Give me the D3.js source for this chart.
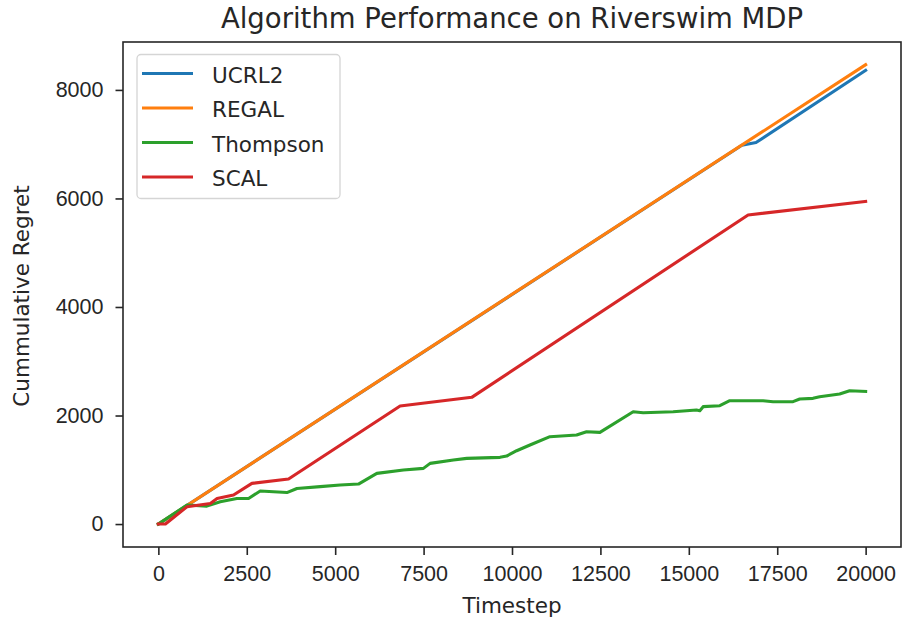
<!DOCTYPE html>
<head>
<script src="https://d3js.org/d3.v7.min.js"></script>
<style type="text/css">
  body { margin: 0; background: #fff; }
  svg { display: block; font-family: "DejaVu Sans", sans-serif; }
  .tick text { fill: #262626; }
</style>
</head>
<body>
<div id="chart"></div>
<script>

// values (timestep, cumulative regret)
var ucrl2 = [[0, 0], [16500, 6980], [16900, 7030], [20000, 8360]];
var regal = [[0, 0], [20000, 8465]];
var thompson = [
  [0, 0], [810, 350], [1370, 330], [1750, 410], [2220, 470], [2550, 470], [2880, 610],
  [3635, 580], [3918, 656], [4576, 690], [5141, 720], [5658, 737], [6178, 934],
  [6930, 995], [7495, 1026], [7684, 1118], [8343, 1180], [8720, 1210], [9661, 1229],
  [9850, 1253], [10132, 1351], [10508, 1456], [11073, 1610], [11827, 1640],
  [12109, 1702], [12486, 1690], [13427, 2070], [13710, 2052], [14557, 2070],
  [15217, 2101], [15311, 2089], [15405, 2163], [15876, 2181], [16158, 2273],
  [17100, 2273], [17382, 2255], [17947, 2255], [18136, 2304], [18512, 2316],
  [18700, 2347], [19265, 2396], [19548, 2457], [20000, 2445]
];
var scal = [
  [0, 0], [200, 0], [810, 320], [1470, 380], [1660, 470], [2125, 535], [2645, 750],
  [3681, 830], [6836, 2175], [8861, 2335], [16676, 5696], [20000, 5945]
];

var seriesNames = ["UCRL2", "REGAL", "Thompson", "SCAL"];
var seriesData = [ucrl2, regal, thompson, scal];
var colors = ["#1f77b4", "#ff7f0e", "#2ca02c", "#d62728"];

var xTicks = [0, 2500, 5000, 7500, 10000, 12500, 15000, 17500, 20000];
var yTicks = [0, 2000, 4000, 6000, 8000];

var width = 904, height = 625;
var margin = { left: 123, right: 3, top: 42, bottom: 78 };
var fs = "21.5px";
var ink = "#262626";

var svg = d3.select("#chart").append("svg")
  .attr("width", width)
  .attr("height", height);

var x = d3.scaleLinear()
  .domain([-1000, 21000])
  .range([margin.left, width - margin.right]);

var y = d3.scaleLinear()
  .domain([-423, 8883])
  .range([height - margin.bottom, margin.top]);

// axes
var xAxis = svg.append("g")
  .attr("transform", "translate(0," + (height - margin.bottom) + ")")
  .call(d3.axisBottom(x).tickValues(xTicks).tickFormat(d3.format("d")).tickSize(8).tickPadding(11).tickSizeOuter(0));
var yAxis = svg.append("g")
  .attr("transform", "translate(" + margin.left + ",0)")
  .call(d3.axisLeft(y).tickValues(yTicks).tickFormat(d3.format("d")).tickSize(7.5).tickPadding(12).tickSizeOuter(0));

[xAxis, yAxis].forEach(function(a) {
  a.select(".domain").remove();
  a.selectAll(".tick line").attr("stroke", ink).attr("stroke-width", 1.6);
  a.selectAll(".tick text").style("font-size", fs);
});

// lines
var line = d3.line()
  .x(d => x(d[0]))
  .y(d => y(d[1]));

svg.append("g").selectAll("path")
  .data(seriesData)
  .enter()
  .append("path")
  .attr("d", line)
  .attr("fill", "none")
  .attr("stroke", (d, i) => colors[i])
  .attr("stroke-width", 3.1)
  .attr("stroke-linejoin", "round")
  .attr("stroke-linecap", "square");

// frame
svg.append("rect")
  .attr("x", margin.left)
  .attr("y", margin.top)
  .attr("width", width - margin.left - margin.right)
  .attr("height", height - margin.top - margin.bottom)
  .attr("fill", "none")
  .attr("stroke", ink)
  .attr("stroke-width", 1.6);

// labels
svg.append("text")
  .attr("x", (margin.left + width - margin.right) / 2)
  .attr("y", 28)
  .attr("text-anchor", "middle")
  .style("font-size", "27.5px")
  .attr("fill", ink)
  .text("Algorithm Performance on Riverswim MDP");

svg.append("text")
  .attr("x", (margin.left + width - margin.right) / 2)
  .attr("y", 613)
  .attr("text-anchor", "middle")
  .style("font-size", fs)
  .attr("fill", ink)
  .text("Timestep");

svg.append("text")
  .attr("transform", "translate(29,296) rotate(-90)")
  .attr("text-anchor", "middle")
  .style("font-size", fs)
  .attr("fill", ink)
  .text("Cummulative Regret");

// legend
var legend = svg.append("g").attr("transform", "translate(137,54.5)");
legend.append("rect")
  .attr("width", 203)
  .attr("height", 144)
  .attr("rx", 4)
  .attr("fill", "white")
  .attr("fill-opacity", 0.8)
  .attr("stroke", "#d5d5d5")
  .attr("stroke-width", 1.3);

var items = legend.selectAll(".item")
  .data(seriesNames)
  .enter()
  .append("g")
  .attr("transform", (d, i) => "translate(0," + (19 + i * 34.5) + ")");
items.append("line")
  .attr("x1", 5).attr("x2", 56)
  .attr("stroke", (d, i) => colors[i])
  .attr("stroke-width", 3.1);
items.append("text")
  .attr("x", 75)
  .attr("y", 9)
  .style("font-size", fs)
  .attr("fill", ink)
  .text(d => d);

</script>
</body>
